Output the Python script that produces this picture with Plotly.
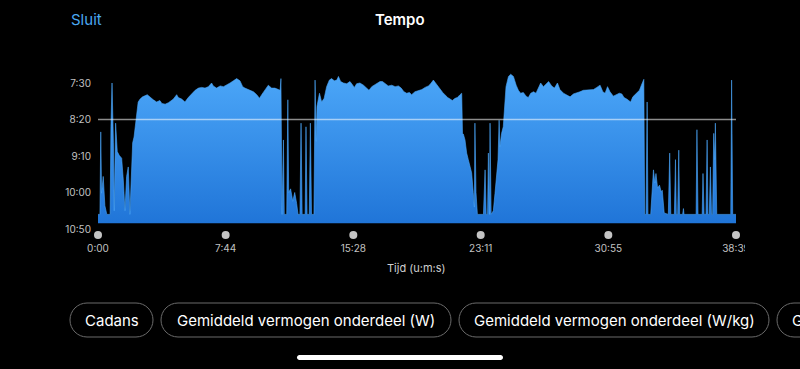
import plotly.graph_objects as go

# ---------------- data ----------------
time_s = [
    0, 7, 10, 13, 19, 25, 32, 44, 47, 51, 56, 59, 64, 70, 77, 86, 92, 98, 104, 110,
    116, 121, 126, 131, 136, 141, 146, 153, 162, 179, 187, 201, 213, 225, 232, 244,
    256, 274, 286, 292, 304, 316, 328, 341, 353, 365, 377, 389, 401, 413, 419, 431,
    444, 456, 468, 480, 492, 504, 516, 526, 534, 553, 565, 577, 587, 595, 607, 619,
    631, 643, 656, 662, 665,
    669, 674, 677, 686, 690, 693, 700, 708, 715, 722, 727, 734, 738, 742, 753, 756,
    760, 768, 772, 776, 785, 789, 793, 796,
    805, 813, 822, 831, 841, 849, 859, 868, 874, 882, 892, 904, 916, 926, 932, 940,
    952, 965, 977, 985, 995, 1003, 1015, 1025, 1034, 1043, 1055, 1068, 1080, 1092,
    1102, 1112, 1122, 1132, 1140, 1152, 1165, 1177, 1189, 1201, 1209, 1219, 1225,
    1234, 1243, 1253, 1261, 1271, 1280, 1288, 1298, 1306, 1316, 1322,
    1325, 1328, 1334, 1338, 1340, 1346, 1352, 1358, 1364, 1368, 1370, 1374, 1379,
    1401, 1407, 1411, 1416, 1419, 1423, 1425, 1429, 1437, 1443, 1449, 1454, 1458,
    1461, 1467, 1473, 1483, 1492, 1500, 1510, 1520, 1528, 1536, 1546, 1556, 1564,
    1573, 1583, 1592, 1601, 1609, 1619, 1629, 1638, 1649, 1659, 1670, 1679, 1692,
    1704, 1716, 1728, 1740, 1752, 1764, 1776, 1789, 1801, 1813, 1825, 1835, 1843,
    1852, 1861, 1873, 1885, 1895, 1904, 1912, 1922, 1931, 1936, 1944, 1952, 1961,
    1968, 1975, 1980, 1984,
    1987, 1992, 1996, 1999, 2009, 2014, 2019, 2024, 2028, 2034, 2041, 2047, 2051,
    2058, 2073, 2078, 2082, 2095, 2099, 2102, 2107, 2111, 2114, 2125, 2128, 2130,
    2174, 2177, 2181, 2196, 2199, 2203, 2210, 2214, 2217, 2222, 2226, 2230, 2234,
    2238, 2242, 2244, 2249, 2300, 2303, 2307, 2316, 2319,
]
pace_s = [
    630, 630, 517, 601, 578, 618, 630, 630, 510, 450, 532, 625, 505, 544, 549, 553, 583, 625, 578, 565,
    630, 565, 532, 524, 505, 487, 476, 472, 469, 466, 469, 473, 476, 474, 478, 479,
    477, 472, 466, 470, 472, 476, 470, 464, 460, 457, 456, 457, 455, 450, 454, 457,
    454, 455, 453, 450, 447, 444, 447, 455, 457, 460, 462, 466, 471, 466, 460, 453,
    457, 457, 459, 460, 444,
    630, 528, 630, 630, 473, 600, 595, 612, 600, 615, 630, 630, 505, 630, 630, 510,
    630, 630, 505, 630, 630, 446, 530, 482,
    464, 476, 471, 455, 446, 444, 447, 446, 441, 448, 450, 451, 448, 453, 456, 451,
    450, 453, 457, 460, 455, 453, 450, 448, 448, 451, 454, 453, 455, 454,
    457, 462, 464, 463, 466, 462, 460, 459, 456, 454, 451, 446, 449,
    454, 459, 463, 466, 470, 472, 474, 471, 470, 466, 464,
    520, 520, 528, 545, 546, 555, 565, 573, 600, 620, 505, 600, 630,
    630, 569, 630, 630, 546, 630, 505, 630, 625, 601, 573, 555, 501,
    537, 519, 510, 455, 441, 438, 441, 453, 460, 464, 463, 468, 470,
    464, 462, 464, 457, 450, 455, 451, 448, 454, 457, 450, 459, 464,
    466, 469, 465, 464, 462, 460, 460, 460, 459, 456, 453, 462, 464,
    455, 462, 468, 466, 464, 465, 470, 472, 474, 476, 469, 466, 464,
    460, 453, 447, 445,
    630, 630, 476, 630, 630, 592, 569, 587, 574, 594, 590, 599, 597,
    628, 630, 546, 630, 630, 555, 630, 630, 542, 630, 630, 622, 630,
    630, 514, 630, 630, 574, 630, 630, 528, 630, 630, 565, 630, 630,
    519, 555, 505, 630, 630, 446, 630, 630, 630,
]

AVG_PACE = 500          # 8:20 /km
FILL_BASE = 642

x_tick_vals = [0, 464, 928, 1391, 1855, 2319]
x_tick_text = ["0:00", "7:44", "15:28", "23:11", "30:55", "38:39"]
y_tick_vals = [450, 500, 550, 600, 650]
y_tick_text = ["7:30", "8:20", "9:10", "10:00", "10:50"]

button_labels = ["Cadans", "Gemiddeld vermogen onderdeel (W)",
                 "Gemiddeld vermogen onderdeel (W/kg)", "G"]

# ---------------- layout geometry (pixels) ----------------
W, H = 800, 369
ML, MR, MT, MB = 98, 64, 73, 132
PW = W - ML - MR
PH = H - MT - MB
Y_RANGE = [660.96, 436.3]   # 200 s per 146 px, 7:30 at y=83
DOT_Y = 658.2


def fx(p):
    return (p - ML) / PW


def fy(p):
    return (H - MB - p) / PH


def pill_path(x0, y0, x1, y1, r):
    k = 0.5523 * r
    pts = [
        ("M", [(x0 + r, y0)]),
        ("L", [(x1 - r, y0)]),
        ("C", [(x1 - r + k, y0), (x1, y0 + r - k), (x1, y0 + r)]),
        ("L", [(x1, y1 - r)]),
        ("C", [(x1, y1 - r + k), (x1 - r + k, y1), (x1 - r, y1)]),
        ("L", [(x0 + r, y1)]),
        ("C", [(x0 + r - k, y1), (x0, y1 - r + k), (x0, y1 - r)]),
        ("L", [(x0, y0 + r)]),
        ("C", [(x0, y0 + r - k), (x0 + r - k, y0), (x0 + r, y0)]),
    ]
    s = ""
    for cmd, ps in pts:
        s += cmd + " ".join(f"{fx(a):.5f},{fy(b):.5f}" for a, b in ps) + " "
    return s + "Z"


BUTTON_BOXES = [(70, 153), (161, 451), (459, 769), (777, 960)]
BTN_Y0, BTN_Y1 = 303, 337
FONT = "Inter, Roboto, 'Noto Sans', sans-serif"

fig = go.Figure()

fig.add_trace(go.Scatter(
    x=[time_s[0], time_s[-1]], y=[FILL_BASE, FILL_BASE], mode="lines",
    line=dict(width=0, color="rgba(0,0,0,0)"), hoverinfo="skip", showlegend=False))

fig.add_trace(go.Scatter(
    x=time_s, y=pace_s, mode="lines", fill="tonexty",
    line=dict(color="#4aa4f7", width=0.6),
    fillgradient=dict(type="vertical",
                      colorscale=[[0, "#2075d8"], [1, "#4ba6f8"]],
                      start=FILL_BASE, stop=440),
    hoverinfo="skip", showlegend=False))

fig.add_trace(go.Scatter(
    x=x_tick_vals, y=[DOT_Y] * len(x_tick_vals), mode="markers",
    marker=dict(size=8, color="#c4c4c4"), cliponaxis=False,
    hoverinfo="skip", showlegend=False))

shapes = [
    dict(type="line", xref="paper", x0=0, x1=1, yref="y", y0=AVG_PACE, y1=AVG_PACE,
         line=dict(color="rgba(255,255,255,0.55)", width=1.5), layer="above"),
    # screen edge clipping of the last tick label
    dict(type="rect", xref="paper", yref="paper", x0=fx(745), x1=fx(801),
         y0=fy(258), y1=fy(241), fillcolor="black", line=dict(width=0), layer="above"),
    # home indicator
    dict(type="path", xref="paper", yref="paper", path=pill_path(297, 355, 503, 360, 2.5),
         fillcolor="white", line=dict(width=0), layer="above"),
]
for (bx0, bx1) in BUTTON_BOXES:
    shapes.append(dict(type="path", xref="paper", yref="paper",
                       path=pill_path(bx0, BTN_Y0, bx1, BTN_Y1, 17),
                       line=dict(color="#6b6b6b", width=1), fillcolor="rgba(0,0,0,0)",
                       layer="above"))

annotations = [
    dict(text="Sluit", xref="paper", yref="paper", x=fx(69), y=fy(20),
         xanchor="left", yanchor="middle", showarrow=False,
         font=dict(family=FONT, size=15, color="#4aa8f2")),
    dict(text="Tempo", xref="paper", yref="paper", x=fx(400), y=fy(20),
         xanchor="center", yanchor="middle", showarrow=False,
         font=dict(family=FONT, size=15, color="white", weight=600)),
    dict(text="Tijd (u:m:s)", xref="paper", yref="paper", x=fx(416), y=fy(268),
         xanchor="center", yanchor="middle", showarrow=False,
         font=dict(family=FONT, size=11, color="#cfcfcf")),
]
for i, (bx0, bx1) in enumerate(BUTTON_BOXES):
    if i < 3:
        annotations.append(dict(text=button_labels[i], xref="paper", yref="paper",
                                x=fx((bx0 + bx1) / 2), y=fy(320), xanchor="center",
                                yanchor="middle", showarrow=False,
                                font=dict(family=FONT, size=15, color="white")))
    else:
        annotations.append(dict(text=button_labels[i], xref="paper", yref="paper",
                                x=fx(bx0 + 13), y=fy(320), xanchor="left",
                                yanchor="middle", showarrow=False,
                                font=dict(family=FONT, size=15, color="white")))

fig.update_layout(
    width=W, height=H, margin=dict(l=ML, r=MR, t=MT, b=MB, pad=0),
    paper_bgcolor="black", plot_bgcolor="black",
    font=dict(family=FONT, color="#cfcfcf"),
    xaxis=dict(range=[0, 2319], showgrid=False, zeroline=False, showline=False,
               tickmode="array", tickvals=x_tick_vals, ticktext=x_tick_text,
               ticks="outside", ticklen=2, tickcolor="rgba(0,0,0,0)",
               tickfont=dict(family=FONT, size=10, color="#c2c2c2"), fixedrange=True),
    yaxis=dict(range=Y_RANGE, showgrid=False, zeroline=False, showline=False,
               tickmode="array", tickvals=y_tick_vals, ticktext=y_tick_text,
               ticks="outside", ticklen=4, tickcolor="rgba(0,0,0,0)",
               tickfont=dict(family=FONT, size=10, color="#c2c2c2"), fixedrange=True),
    shapes=shapes, annotations=annotations, showlegend=False,
)

fig.write_html("out.html", config={"displayModeBar": False},
               post_script="document.body.style.margin='0';document.body.style.overflow='hidden';")
